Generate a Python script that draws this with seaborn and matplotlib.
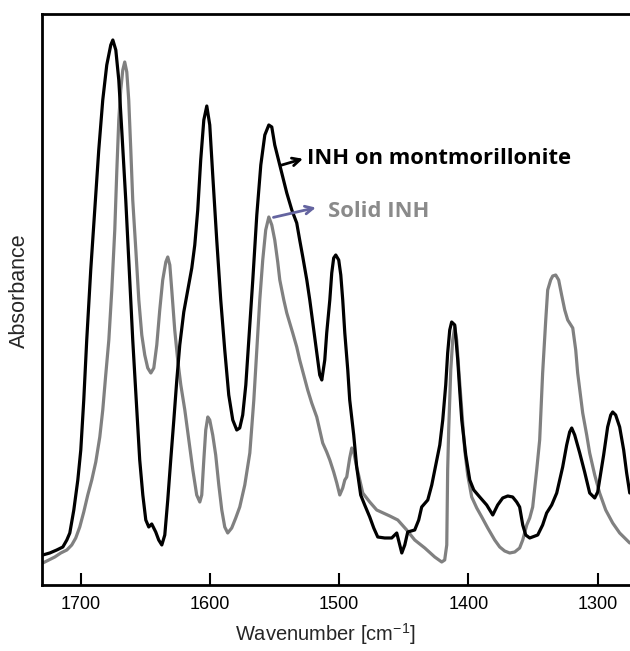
import matplotlib
matplotlib.use("Agg")
import matplotlib.pyplot as plt
import seaborn as sns

# INH adsorbed on montmorillonite (black trace)
wn_mont = [1729.4, 1724.0, 1718.6, 1713.9, 1710.8, 1708.5, 1705.4, 1702.3, 1700.0, 1697.7,
           1695.4, 1692.3, 1689.2, 1686.1, 1683.0, 1679.9, 1676.8, 1675.2, 1672.9, 1670.6,
           1668.3, 1665.2, 1662.1, 1659.8, 1656.7, 1654.4, 1652.0, 1649.7, 1647.4, 1645.1,
           1642.0, 1639.7, 1637.3, 1635.0, 1632.7, 1630.4, 1628.0, 1625.7, 1623.4, 1620.3,
           1617.2, 1614.1, 1611.8, 1609.5, 1607.2, 1604.8, 1602.5, 1600.2, 1597.9, 1594.8,
           1591.7, 1588.6, 1585.5, 1582.4, 1579.3, 1577.0, 1574.7, 1572.3, 1570.0, 1566.9,
           1563.8, 1560.7, 1557.6, 1554.5, 1552.2, 1549.9, 1547.6, 1543.7, 1540.6, 1536.7,
           1532.9, 1530.6, 1528.2, 1525.1, 1522.8, 1519.7, 1517.4, 1515.1, 1513.5, 1511.2,
           1509.7, 1507.3, 1505.8, 1504.3, 1502.7, 1500.4, 1498.8, 1497.3, 1495.7, 1493.4,
           1491.9, 1488.8, 1486.5, 1483.4, 1480.3, 1476.4, 1473.3, 1470.2, 1464.8, 1459.4,
           1455.5, 1453.2, 1451.6, 1449.3, 1447.0, 1441.6, 1438.5, 1436.2, 1431.5, 1428.4,
           1426.1, 1422.2, 1419.9, 1417.6, 1416.1, 1414.5, 1413.0, 1410.6, 1408.3, 1406.8,
           1405.2, 1402.1, 1399.0, 1395.9, 1391.3, 1385.9, 1381.2, 1377.4, 1373.5, 1369.6,
           1365.8, 1362.7, 1360.4, 1358.0, 1355.7, 1352.6, 1346.4, 1342.6, 1339.5, 1335.6,
           1331.7, 1329.4, 1327.1, 1324.0, 1321.7, 1320.1, 1317.8, 1313.9, 1310.1, 1306.2,
           1302.3, 1300.0, 1298.5, 1295.4, 1292.3, 1289.9, 1288.4, 1286.1, 1283.0, 1279.9,
           1277.6, 1275.2]
abs_mont = [0.30, 0.32, 0.35, 0.38, 0.45, 0.52, 0.75, 1.05, 1.35, 1.85,
            2.45, 3.15, 3.75, 4.35, 4.85, 5.20, 5.40, 5.45, 5.35, 5.05,
            4.55, 3.85, 3.05, 2.45, 1.75, 1.25, 0.90, 0.65, 0.58, 0.61,
            0.53, 0.45, 0.40, 0.50, 0.85, 1.25, 1.65, 2.05, 2.40, 2.73,
            2.95, 3.17, 3.40, 3.75, 4.25, 4.65, 4.79, 4.60, 4.10, 3.45,
            2.85, 2.35, 1.90, 1.65, 1.55, 1.57, 1.70, 2.00, 2.45, 3.05,
            3.70, 4.20, 4.50, 4.60, 4.58, 4.40, 4.28, 4.08, 3.92, 3.75,
            3.62, 3.45, 3.28, 3.05, 2.85, 2.55, 2.32, 2.10, 2.05, 2.25,
            2.52, 2.85, 3.12, 3.27, 3.30, 3.25, 3.10, 2.85, 2.52, 2.15,
            1.85, 1.50, 1.18, 0.90, 0.80, 0.68, 0.57, 0.48, 0.47, 0.47,
            0.52, 0.40, 0.32, 0.40, 0.53, 0.55, 0.65, 0.78, 0.85, 1.00,
            1.15, 1.40, 1.65, 2.00, 2.32, 2.55, 2.63, 2.60, 2.25, 1.95,
            1.65, 1.30, 1.05, 0.95, 0.88, 0.80, 0.70, 0.80, 0.87, 0.89,
            0.88, 0.83, 0.78, 0.60, 0.50, 0.47, 0.50, 0.60, 0.72, 0.80,
            0.92, 1.05, 1.18, 1.40, 1.53, 1.57, 1.50, 1.32, 1.13, 0.92,
            0.87, 0.93, 1.05, 1.30, 1.58, 1.70, 1.73, 1.70, 1.58, 1.35,
            1.12, 0.92]

# solid INH (grey trace)
wn_solid = [1729.4, 1724.8, 1720.1, 1715.5, 1710.8, 1707.0, 1703.9, 1700.8, 1697.7, 1694.6,
            1691.5, 1688.4, 1685.3, 1683.0, 1680.7, 1678.3, 1676.0, 1673.7, 1672.1, 1670.6,
            1669.1, 1667.5, 1666.0, 1664.4, 1662.9, 1661.3, 1659.8, 1657.4, 1655.1, 1652.8,
            1650.5, 1648.2, 1645.8, 1643.5, 1641.2, 1638.9, 1636.6, 1634.2, 1632.7, 1631.1,
            1629.6, 1627.3, 1625.0, 1622.6, 1619.5, 1616.4, 1613.3, 1610.3, 1607.9, 1606.4,
            1604.8, 1603.3, 1601.7, 1600.2, 1597.9, 1595.6, 1593.2, 1590.9, 1588.6, 1586.3,
            1583.2, 1580.1, 1577.0, 1573.1, 1569.2, 1566.1, 1563.8, 1561.5, 1559.2, 1556.9,
            1554.5, 1552.2, 1549.9, 1547.6, 1546.0, 1542.9, 1540.6, 1538.3, 1536.0, 1532.9,
            1530.6, 1527.5, 1524.4, 1521.3, 1517.4, 1515.1, 1512.8, 1509.7, 1507.3, 1504.3,
            1501.9, 1499.6, 1497.3, 1495.7, 1494.2, 1491.9, 1490.3, 1488.8, 1486.5, 1484.1,
            1481.8, 1476.4, 1471.0, 1460.9, 1454.7, 1447.8, 1441.6, 1433.8, 1426.1, 1420.7,
            1418.4, 1416.8, 1416.1, 1415.3, 1413.7, 1412.2, 1410.6, 1409.1, 1407.5, 1405.2,
            1402.9, 1400.6, 1397.5, 1393.6, 1389.7, 1385.1, 1379.7, 1375.8, 1372.0, 1368.1,
            1364.2, 1360.4, 1358.0, 1354.9, 1352.6, 1350.3, 1347.2, 1344.9, 1342.6, 1340.2,
            1338.7, 1336.4, 1334.8, 1332.5, 1330.2, 1327.9, 1325.5, 1323.2, 1319.3, 1317.0,
            1315.5, 1311.6, 1308.5, 1306.2, 1302.3, 1298.5, 1293.8, 1288.4, 1283.0, 1275.2]
abs_solid = [0.22, 0.25, 0.28, 0.32, 0.35, 0.40, 0.47, 0.58, 0.73, 0.90,
             1.05, 1.23, 1.48, 1.75, 2.10, 2.45, 2.95, 3.55, 4.15, 4.65,
             4.95, 5.15, 5.23, 5.13, 4.85, 4.35, 3.85, 3.35, 2.85, 2.50,
             2.30, 2.17, 2.12, 2.17, 2.40, 2.75, 3.05, 3.23, 3.28, 3.20,
             2.95, 2.55, 2.25, 2.00, 1.75, 1.45, 1.15, 0.90, 0.83, 0.90,
             1.25, 1.55, 1.68, 1.65, 1.50, 1.30, 1.00, 0.75, 0.58, 0.52,
             0.57, 0.67, 0.78, 1.00, 1.32, 1.85, 2.35, 2.85, 3.25, 3.55,
             3.68, 3.60, 3.45, 3.23, 3.05, 2.85, 2.72, 2.62, 2.52, 2.38,
             2.25, 2.10, 1.95, 1.82, 1.68, 1.55, 1.42, 1.33, 1.25, 1.13,
             1.02, 0.90, 0.97, 1.05, 1.08, 1.27, 1.37, 1.33, 1.18, 1.05,
             0.92, 0.83, 0.75, 0.69, 0.65, 0.55, 0.45, 0.37, 0.28, 0.23,
             0.25, 0.40, 1.15, 1.55, 2.15, 2.45, 2.58, 2.45, 2.15, 1.75,
             1.35, 1.10, 0.88, 0.77, 0.68, 0.57, 0.45, 0.38, 0.34, 0.32,
             0.33, 0.37, 0.45, 0.60, 0.67, 0.78, 1.15, 1.45, 2.12, 2.65,
             2.95, 3.05, 3.09, 3.10, 3.05, 2.90, 2.75, 2.65, 2.57, 2.35,
             2.12, 1.72, 1.50, 1.32, 1.10, 0.92, 0.75, 0.62, 0.52, 0.42]

x_ticks = [1700, 1600, 1500, 1400, 1300]

sns.set_style("white")
plt.rcParams['font.family'] = ['Liberation Sans', 'DejaVu Sans']
plt.rcParams['mathtext.fontset'] = 'custom'
plt.rcParams['mathtext.rm'] = 'Liberation Sans'
plt.rcParams['mathtext.it'] = 'Liberation Sans'

fig = plt.figure(figsize=(6.3, 6.51), dpi=100)
ax = fig.add_axes([0.0667, 0.1014, 0.9333, 0.8771])

sns.lineplot(x=wn_solid, y=abs_solid, ax=ax, color='#808080', linewidth=2.3,
             sort=False, estimator=None)
sns.lineplot(x=wn_mont, y=abs_mont, ax=ax, color='black', linewidth=2.3,
             sort=False, estimator=None)

ax.set_xlim(1730, 1275)
ax.set_ylim(0, 5.71)
ax.set_xticks(x_ticks)
ax.set_xticklabels([str(t) for t in x_ticks])
ax.set_yticks([])
ax.tick_params(axis='x', direction='in', length=8.5, width=1.5, pad=8, labelsize=13,
               bottom=True, colors='black')
for side in ['left', 'bottom', 'top']:
    ax.spines[side].set_color('black')
    ax.spines[side].set_linewidth(2)
ax.spines['right'].set_visible(False)

ax.set_xlabel(r'Wavenumber [cm$^{-1}$]', fontsize=14.5)
ax.xaxis.set_label_coords(0.482, -0.063)
ax.set_ylabel('Absorbance', fontsize=15.5)
ax.yaxis.set_label_coords(-0.02, 0.515)

# labels with arrows
ax.annotate('', xy=(1526, 4.27), xytext=(1547, 4.19),
            arrowprops=dict(arrowstyle='->', color='black', lw=2, mutation_scale=14))
ax.text(1525, 4.26, 'INH on montmorillonite', fontsize=15.8, fontweight='bold',
        family=['Open Sans', 'DejaVu Sans'], color='black', va='center', ha='left')
ax.annotate('', xy=(1516, 3.78), xytext=(1553, 3.67),
            arrowprops=dict(arrowstyle='->', color='#6464a0', lw=2, mutation_scale=14))
ax.text(1509, 3.73, 'Solid INH', fontsize=15.8, fontweight='bold',
        family=['Open Sans', 'DejaVu Sans'], color='#8a8a8a', va='center', ha='left')

fig.savefig('out.png', dpi=100)
